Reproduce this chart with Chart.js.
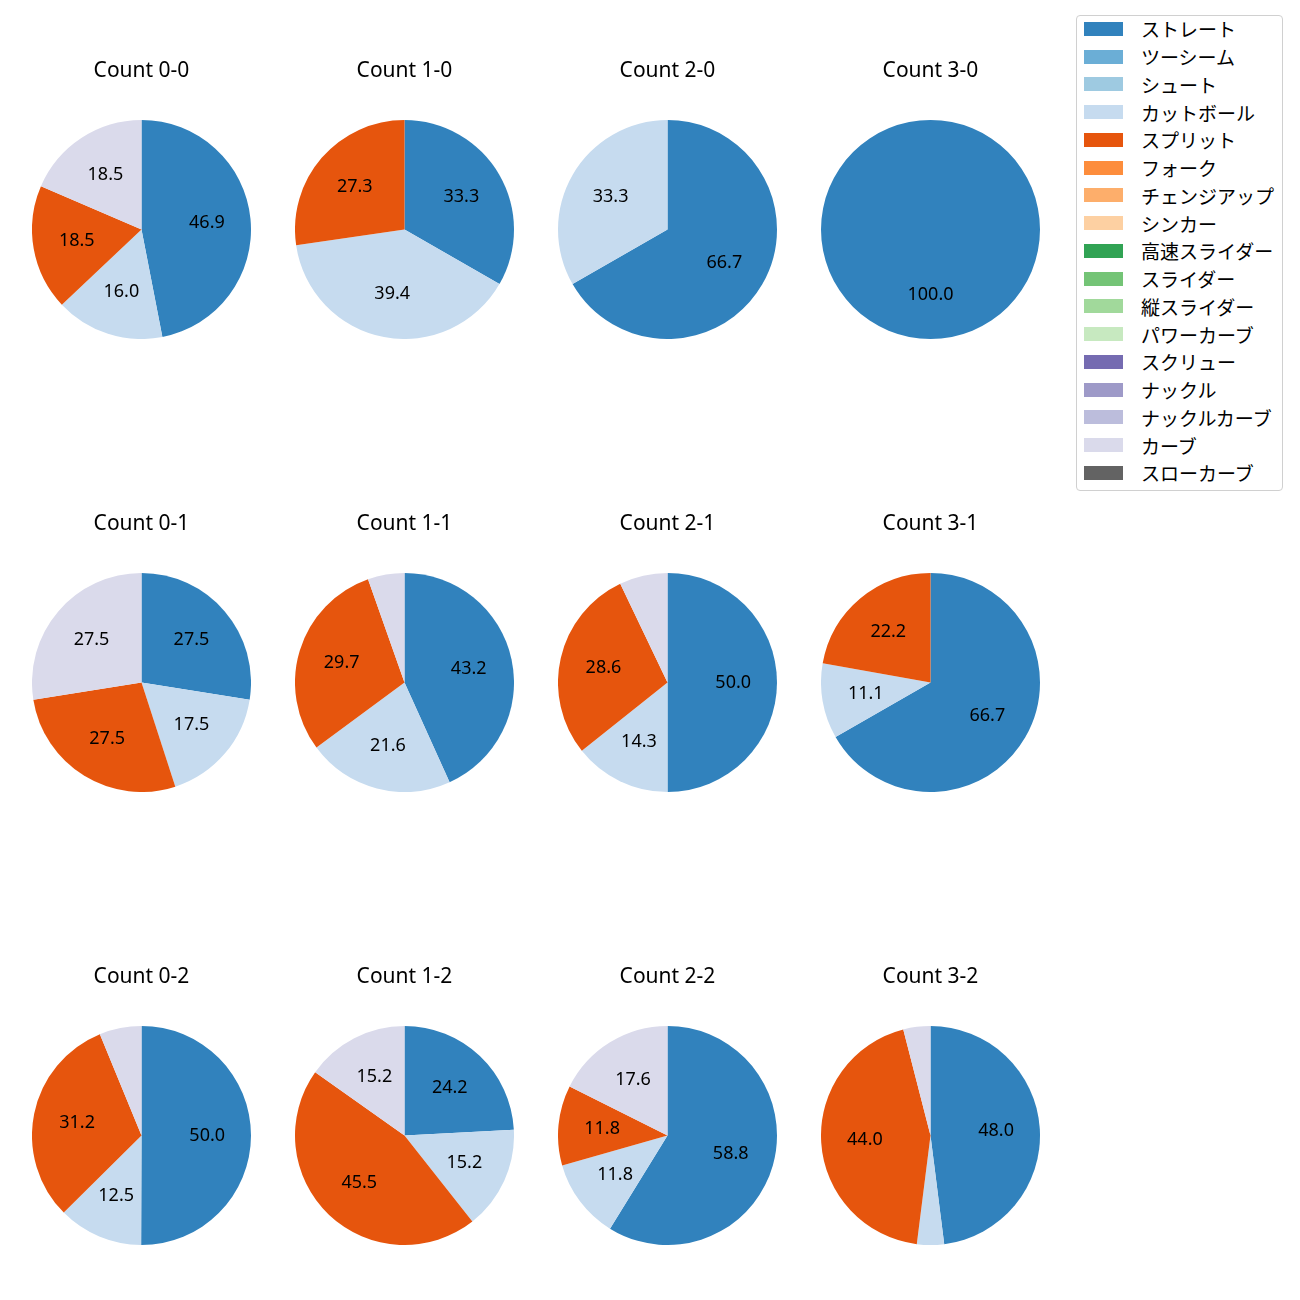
<!DOCTYPE html>
<html>
<head>
<meta charset="utf-8">
<script src="https://cdn.jsdelivr.net/npm/chart.js@4.4.1/dist/chart.umd.min.js"></script>
<style>
    body { margin: 0; background: #fff; }
    #wrap { position: relative; width: 1300px; height: 1300px; }
    canvas { position: absolute; }
    #legend {
        position: absolute; left: 1076px; top: 15px; width: 205px; height: 474px;
        border: 1px solid #d0d0d0; border-radius: 4px; background: #fff;
        font-family: "Noto Sans CJK JP", sans-serif; font-size: 19px; color: #000;
    }
    .item { position: relative; top: -1px; height: 27.75px; display: flex; align-items: center; }
    .box { width: 39px; height: 14px; margin-left: 7px; margin-right: 18px; }
</style>
</head>
<body>
<div id="wrap">
    <div id="legend"></div>
</div>
<script>

/* =========================
   DATA
========================= */

const pitchTypes = [
    "ストレート", "ツーシーム", "シュート", "カットボール",
    "スプリット", "フォーク", "チェンジアップ", "シンカー",
    "高速スライダー", "スライダー", "縦スライダー", "パワーカーブ",
    "スクリュー", "ナックル", "ナックルカーブ", "カーブ", "スローカーブ"
];

const pitchColors = [
    "#3182bd", "#6baed6", "#9ecae1", "#c6dbef",
    "#e6550d", "#fd8d3c", "#fdae6b", "#fdd0a2",
    "#31a354", "#74c476", "#a1d99b", "#c7e9c0",
    "#756bb1", "#9e9ac8", "#bcbddc", "#dadaeb", "#636363"
];

// pitches thrown in this data (order of the slices)
const usedPitches = ["ストレート", "カットボール", "スプリット", "カーブ"];

const countLabels = [
    "Count 0-0", "Count 1-0", "Count 2-0", "Count 3-0",
    "Count 0-1", "Count 1-1", "Count 2-1", "Count 3-1",
    "Count 0-2", "Count 1-2", "Count 2-2", "Count 3-2"
];

// percentages per count: ストレート, カットボール, スプリット, カーブ
const count00 = [46.9, 16.0, 18.5, 18.5];
const count10 = [33.3, 39.4, 27.3, 0];
const count20 = [66.7, 33.3, 0, 0];
const count30 = [100.0, 0, 0, 0];
const count01 = [27.5, 17.5, 27.5, 27.5];
const count11 = [43.2, 21.6, 29.7, 5.4];
const count21 = [50.0, 14.3, 28.6, 7.1];
const count31 = [66.7, 11.1, 22.2, 0];
const count02 = [50.0, 12.5, 31.2, 6.2];
const count12 = [24.2, 15.2, 45.5, 15.2];
const count22 = [58.8, 11.8, 11.8, 17.6];
const count32 = [48.0, 4.0, 44.0, 4.0];

const countValues = [
    count00, count10, count20, count30,
    count01, count11, count21, count31,
    count02, count12, count22, count32
];


/* =========================
   LEGEND
========================= */

const legend = document.getElementById("legend");

pitchTypes.forEach((name, i) => {
    const row = document.createElement("div");
    row.className = "item";
    row.innerHTML = `<span class="box" style="background:${pitchColors[i]}"></span><span>${name}</span>`;
    legend.appendChild(row);
});


/* =========================
   PERCENT LABELS
========================= */

const pctLabels = {
    id: "pctLabels",
    afterDatasetsDraw(chart) {
        const ctx = chart.ctx;
        const meta = chart.getDatasetMeta(0);
        const values = chart.data.datasets[0].data;
        const total = values.reduce((a, b) => a + b, 0);

        ctx.save();
        ctx.font = "18px 'Noto Sans', sans-serif";
        ctx.fillStyle = "#000";
        ctx.textAlign = "center";
        ctx.textBaseline = "middle";

        meta.data.forEach((arc, i) => {
            const pct = values[i] / total * 100;
            if (pct < 10) return;
            const p = arc.getProps(["x", "y", "startAngle", "endAngle", "outerRadius"], true);
            const mid = (p.startAngle + p.endAngle) / 2;
            const r = p.outerRadius * 0.6;
            ctx.fillText(values[i].toFixed(1), p.x + Math.cos(mid) * r, p.y + Math.sin(mid) * r);
        });

        ctx.restore();
    }
};


/* =========================
   PIES
========================= */

const wrap = document.getElementById("wrap");
const colCenters = [141, 404, 667, 930];
const rowTops = [40, 493, 946];
const pieSize = 219;

countLabels.forEach((label, k) => {

    const canvas = document.createElement("canvas");
    canvas.width = pieSize;
    canvas.height = pieSize + 80;
    canvas.style.left = (colCenters[k % 4] - pieSize / 2) + "px";
    canvas.style.top = rowTops[Math.floor(k / 4)] + "px";
    wrap.appendChild(canvas);

    new Chart(canvas.getContext("2d"), {
        type: "pie",
        data: {
            labels: usedPitches,
            datasets: [{
                data: countValues[k],
                backgroundColor: usedPitches.map(p => pitchColors[pitchTypes.indexOf(p)]),
                borderWidth: 0
            }]
        },
        options: {
            responsive: false,
            animation: false,
            events: [],
            layout: { padding: 0 },
            plugins: {
                legend: { display: false },
                tooltip: { enabled: false },
                title: {
                    display: true,
                    text: label,
                    color: "#000",
                    font: { family: "'Noto Sans', sans-serif", size: 21, weight: "normal", lineHeight: 1.2 },
                    padding: { top: 18.4, bottom: 36.4 }
                }
            }
        },
        plugins: [pctLabels]
    });

});

</script>
</body>
</html>
